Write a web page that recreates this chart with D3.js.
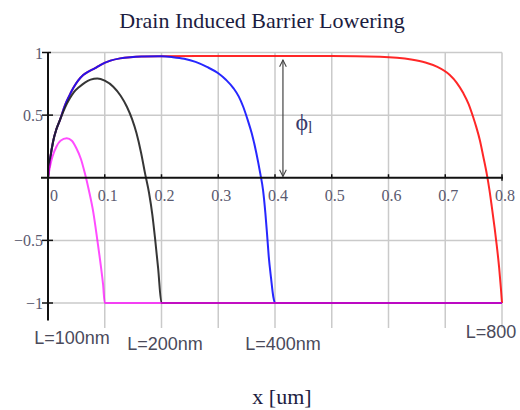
<!DOCTYPE html>
<html lang="en">
<head>
<meta charset="utf-8">
<script src="https://d3js.org/d3.v7.min.js"></script>
<style>
  body { margin: 0; background: #fff; }
  svg { display: block; }
</style>
</head>
<body>
<script>

// channel potential (x in um, phi normalised)
const l100 = [[0,0],[0.004,0.1],[0.008,0.17],[0.015,0.25],[0.022,0.295],[0.033,0.315],[0.042,0.295],
  [0.05,0.235],[0.058,0.15],[0.065,0.035],[0.072,-0.1],[0.08,-0.28],[0.087,-0.5],[0.093,-0.7],
  [0.097,-0.85],[0.1,-1],[0.8,-1]]

const l200 = [[0,0],[0.0035,0.14],[0.009,0.29],[0.015,0.39],[0.021,0.46],[0.03,0.56],[0.038,0.63],
  [0.045,0.68],[0.055,0.725],[0.065,0.76],[0.075,0.783],[0.087,0.793],[0.1,0.775],[0.115,0.727],
  [0.128,0.655],[0.139,0.567],[0.148,0.47],[0.156,0.355],[0.164,0.2],[0.171,0.035],[0.178,-0.12],
  [0.184,-0.3],[0.189,-0.5],[0.194,-0.72],[0.2,-1],[0.8,-1]]

const l400 = [[0,0],[0.0035,0.14],[0.009,0.29],[0.015,0.39],[0.021,0.46],[0.03,0.58],[0.037,0.65],
  [0.045,0.72],[0.053,0.775],[0.062,0.82],[0.072,0.85],[0.083,0.875],[0.092,0.9],[0.11,0.935],
  [0.127,0.953],[0.145,0.963],[0.165,0.968],[0.2,0.97],[0.22,0.963],[0.24,0.95],[0.26,0.925],
  [0.28,0.885],[0.3,0.834],[0.314,0.78],[0.327,0.714],[0.336,0.65],[0.344,0.567],[0.352,0.46],
  [0.359,0.355],[0.367,0.2],[0.374,0.035],[0.379,-0.1],[0.383,-0.28],[0.386,-0.45],[0.389,-0.63],
  [0.393,-0.8],[0.397,-0.95],[0.4,-1],[0.8,-1]]

const l800 = [[0,0],[0.0035,0.14],[0.009,0.29],[0.015,0.39],[0.021,0.46],[0.03,0.58],[0.037,0.65],
  [0.045,0.72],[0.053,0.775],[0.062,0.82],[0.072,0.85],[0.083,0.875],[0.092,0.9],[0.11,0.935],
  [0.127,0.953],[0.145,0.963],[0.165,0.968],[0.2,0.97],[0.3,0.972],[0.4,0.972],[0.5,0.972],
  [0.585,0.966],[0.615,0.958],[0.64,0.944],[0.665,0.92],[0.685,0.887],[0.708,0.82],[0.72,0.76],
  [0.732,0.674],[0.741,0.59],[0.749,0.487],[0.755,0.4],[0.761,0.3],[0.767,0.17],[0.773,0.035],
  [0.778,-0.1],[0.782,-0.23],[0.787,-0.4],[0.791,-0.55],[0.795,-0.72],[0.798,-0.88],[0.8,-1]]

const xTicks = [0, 0.1, 0.2, 0.3, 0.4, 0.5, 0.6, 0.7, 0.8]
const xTickLabels = ['0', '0.1', '0.2', '0.3', '0.4', '0.5', '0.6', '0.7', '0.8']
const yTicks = [1, 0.5, -0.5, -1]
const yTickLabels = ['1', '0.5', '\u22120.5', '\u22121']
const lengthLabels = ['L=100nm', 'L=200nm', 'L=400nm', 'L=800']

const width = 520,
  height = 410

const x = d3.scaleLinear().domain([0, 0.8]).range([48, 502]),
  y = d3.scaleLinear().domain([-1, 1]).range([303, 52.5])

const svg = d3.select('body').append('svg')
  .attr('width', width)
  .attr('height', height)

// grid
svg.selectAll('.vgrid')
  .data(xTicks.slice(1))
  .enter().append('line')
  .attr('x1', d => x(d)).attr('x2', d => x(d))
  .attr('y1', y(1)).attr('y2', y(-1.2))
  .attr('stroke', '#cacaca').attr('stroke-width', 1.5)

svg.selectAll('.hgrid')
  .data(yTicks)
  .enter().append('line')
  .attr('x1', x(0)).attr('x2', x(0.8))
  .attr('y1', d => y(d)).attr('y2', d => y(d))
  .attr('stroke', '#cacaca').attr('stroke-width', 1.5)

// curves
const line = d3.line()
  .x(d => x(d[0]))
  .y(d => y(d[1]))
  .curve(d3.curveMonotoneX)

const series = [
  {data: l800, color: '#ff1010', op: 0.9},
  {data: l400, color: '#1010ff', op: 0.9},
  {data: l200, color: '#202020', op: 0.9},
  {data: l100, color: '#ff00ff', op: 0.7}
]

svg.selectAll('.curve')
  .data(series)
  .enter().append('path')
  .attr('fill', 'none')
  .attr('stroke', d => d.color)
  .attr('stroke-opacity', d => d.op)
  .attr('stroke-width', 2)
  .attr('d', d => line(d.data))

// axes
svg.append('line')
  .attr('x1', x(0)).attr('x2', x(0))
  .attr('y1', y(1)).attr('y2', y(-1.14))
  .attr('stroke', '#111').attr('stroke-width', 2)
svg.append('line')
  .attr('x1', x(0) - 7).attr('x2', x(0.8) + 1)
  .attr('y1', y(0)).attr('y2', y(0))
  .attr('stroke', '#111').attr('stroke-width', 2)

svg.selectAll('.ytick')
  .data(yTicks)
  .enter().append('line')
  .attr('x1', x(0) - 6).attr('x2', d => d == 1 ? x(0) + 3 : x(0) + 5)
  .attr('y1', d => y(d)).attr('y2', d => y(d))
  .attr('stroke', '#111').attr('stroke-width', 1.5)

svg.selectAll('.xtick')
  .data(xTicks.slice(1))
  .enter().append('line')
  .attr('x1', d => x(d)).attr('x2', d => x(d))
  .attr('y1', y(0) - 3.5).attr('y2', d => d == 0.8 ? y(0) + 3 : y(0))
  .attr('stroke', '#111').attr('stroke-width', 1.5)

// tick labels
svg.selectAll('.xlab')
  .data(xTicks)
  .enter().append('text')
  .attr('x', (d, i) => i == 0 ? x(d) + 6 : x(d) + 3)
  .attr('y', y(0) + 23)
  .attr('text-anchor', 'middle')
  .attr('font-family', 'Liberation Serif, serif')
  .attr('font-size', 16)
  .attr('fill', '#5a5a70')
  .text((d, i) => xTickLabels[i])

svg.selectAll('.ylab')
  .data(yTicks)
  .enter().append('text')
  .attr('x', x(0) - 5)
  .attr('y', d => y(d) + 6)
  .attr('text-anchor', 'end')
  .attr('font-family', 'Liberation Serif, serif')
  .attr('font-size', 16)
  .attr('fill', '#5a5a70')
  .text((d, i) => yTickLabels[i])

// L labels
const labelPos = [[72, 344], [165, 350], [283, 350], [491, 338]]
svg.selectAll('.llab')
  .data(lengthLabels)
  .enter().append('text')
  .attr('x', (d, i) => labelPos[i][0])
  .attr('y', (d, i) => labelPos[i][1])
  .attr('text-anchor', 'middle')
  .attr('font-family', 'Liberation Sans, Arial, sans-serif')
  .attr('font-size', 18)
  .attr('fill', '#4a4a5a')
  .text(d => d)

// phi_l arrow
svg.append('defs').selectAll('marker')
  .data(['arrS', 'arrE'])
  .enter().append('marker')
  .attr('id', d => d)
  .attr('viewBox', '0 0 10 10')
  .attr('refX', 9).attr('refY', 5)
  .attr('markerWidth', 7).attr('markerHeight', 7)
  .attr('orient', 'auto-start-reverse')
  .append('path')
  .attr('d', 'M1,1 L9,5 L1,9')
  .attr('fill', 'none')
  .attr('stroke', '#444')
  .attr('stroke-width', 1.3)

svg.append('line')
  .attr('x1', x(0.414)).attr('x2', x(0.414))
  .attr('y1', y(0.94)).attr('y2', y(0.01))
  .attr('stroke', '#444').attr('stroke-width', 1.2)
  .attr('marker-start', 'url(#arrS)')
  .attr('marker-end', 'url(#arrE)')

const phi = svg.append('text')
  .attr('x', x(0.436))
  .attr('y', y(0.38))
  .attr('font-family', 'Liberation Serif, serif')
  .attr('font-size', 24)
  .attr('fill', '#3a3a6a')
phi.append('tspan').text('\u03d5')
phi.append('tspan').attr('font-size', 16).attr('dy', 3).text('l')

// titles
svg.append('text')
  .attr('x', 262).attr('y', 28)
  .attr('text-anchor', 'middle')
  .attr('font-family', 'Liberation Serif, serif')
  .attr('font-size', 22)
  .attr('fill', '#1c1c40')
  .text('Drain Induced Barrier Lowering')

svg.append('text')
  .attr('x', 282).attr('y', 404)
  .attr('text-anchor', 'middle')
  .attr('font-family', 'Liberation Serif, serif')
  .attr('font-size', 22)
  .attr('fill', '#1c1c40')
  .text('x [um]')

</script>
</body>
</html>
